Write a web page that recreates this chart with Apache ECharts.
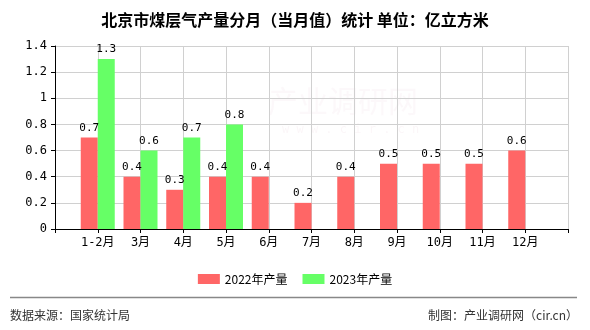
<!DOCTYPE html>
<html>
<head>
<meta charset="utf-8">
<script src="https://cdn.jsdelivr.net/npm/echarts@6/dist/echarts.min.js"></script>
<style>
  html, body { margin: 0; padding: 0; background: #fff; }
  #chart { width: 590px; height: 330px; }
</style>
</head>
<body>
<div id="chart"></div>
<script>
// Monthly coalbed methane output, Beijing (100 million m³)
const months = ['1-2月', '3月', '4月', '5月', '6月', '7月', '8月', '9月', '10月', '11月', '12月'];
const output2022 = [0.7, 0.4, 0.3, 0.4, 0.4, 0.2, 0.4, 0.5, 0.5, 0.5, 0.6];
const output2023 = [1.3, 0.6, 0.7, 0.8];
const seriesNames = ['2022年产量', '2023年产量'];
const yTicks = { min: 0, max: 1.4, interval: 0.2 };

// Axis has an empty slot at each end so months sit on the tick lines
const axisCats = [''].concat(months, ['']);
const pad = (arr) => {
  const out = [null];
  for (let i = 0; i < months.length; i++) out.push(i < arr.length ? arr[i] : null);
  out.push(null);
  return out;
};

const monoFont = '"DejaVu Sans Mono", "Noto Sans CJK SC", monospace';
const cjkFont = '"Noto Sans CJK SC", sans-serif';

const labelOpt = {
  show: true,
  position: 'top',
  distance: 4,
  color: '#000',
  fontSize: 11,
  fontFamily: monoFont
};

const chart = echarts.init(document.getElementById('chart'), null, { renderer: 'canvas' });
chart.setOption({
  animation: false,
  backgroundColor: '#fff',
  title: {
    text: '北京市煤层气产量分月（当月值）统计 单位：亿立方米',
    left: 'center',
    top: 7,
    textStyle: { fontSize: 16, fontWeight: 'bold', color: '#000', fontFamily: cjkFont }
  },
  legend: {
    data: seriesNames,
    left: 'center',
    top: 268,
    itemWidth: 22,
    itemHeight: 10,
    itemGap: 15,
    icon: 'rect',
    textStyle: { fontSize: 12, color: '#000', fontFamily: cjkFont }
  },
  grid: { left: 55, right: 22, top: 46, bottom: 101, containLabel: false },
  xAxis: {
    type: 'category',
    data: axisCats,
    boundaryGap: false,
    axisLine: { lineStyle: { color: '#000', width: 1 } },
    axisTick: { show: true, length: 4, interval: 0, lineStyle: { color: '#000' } },
    axisLabel: { interval: 0, color: '#000', fontSize: 12, fontFamily: monoFont, margin: 8 },
    splitLine: { show: true, interval: 0, lineStyle: { color: '#d0d0d0', width: 1 } }
  },
  yAxis: {
    type: 'value',
    min: yTicks.min,
    max: yTicks.max,
    interval: yTicks.interval,
    axisLine: { show: true, lineStyle: { color: '#000', width: 1 } },
    axisTick: { show: true, length: 4, lineStyle: { color: '#000' } },
    axisLabel: { color: '#000', fontSize: 12, fontFamily: monoFont, margin: 8 },
    splitLine: { show: true, lineStyle: { color: '#d0d0d0', width: 1 } }
  },
  series: [
    {
      name: seriesNames[0],
      type: 'bar',
      data: pad(output2022),
      barWidth: 17,
      barGap: '0%',
      itemStyle: { color: '#ff6666' },
      label: labelOpt
    },
    {
      name: seriesNames[1],
      type: 'bar',
      data: pad(output2023),
      barWidth: 17,
      barGap: '0%',
      itemStyle: { color: '#66ff66' },
      label: labelOpt
    }
  ],
  graphic: [
    {
      type: 'text', left: 268, top: 86, z: -1, silent: true,
      style: { text: '产业调研网', fontSize: 30, fill: 'rgba(220,170,185,0.08)', fontFamily: cjkFont }
    },
    {
      type: 'text', left: 282, top: 124, z: -1, silent: true,
      style: { text: 'w w w . c i r . c n', fontSize: 12, fill: 'rgba(220,170,185,0.1)', fontFamily: monoFont }
    },
    {
      type: 'line', silent: true,
      shape: { x1: 10, y1: 297.5, x2: 577, y2: 297.5 },
      style: { stroke: '#888', lineWidth: 1.5 }
    },
    {
      type: 'text', left: 10, top: 309, silent: true,
      style: { text: '数据来源：国家统计局', fontSize: 12, fill: '#333', fontFamily: cjkFont }
    },
    {
      type: 'text', right: 12, top: 309, silent: true,
      style: { text: '制图：产业调研网（cir.cn）', fontSize: 12, fill: '#333', fontFamily: cjkFont }
    }
  ]
});
</script>
</body>
</html>
